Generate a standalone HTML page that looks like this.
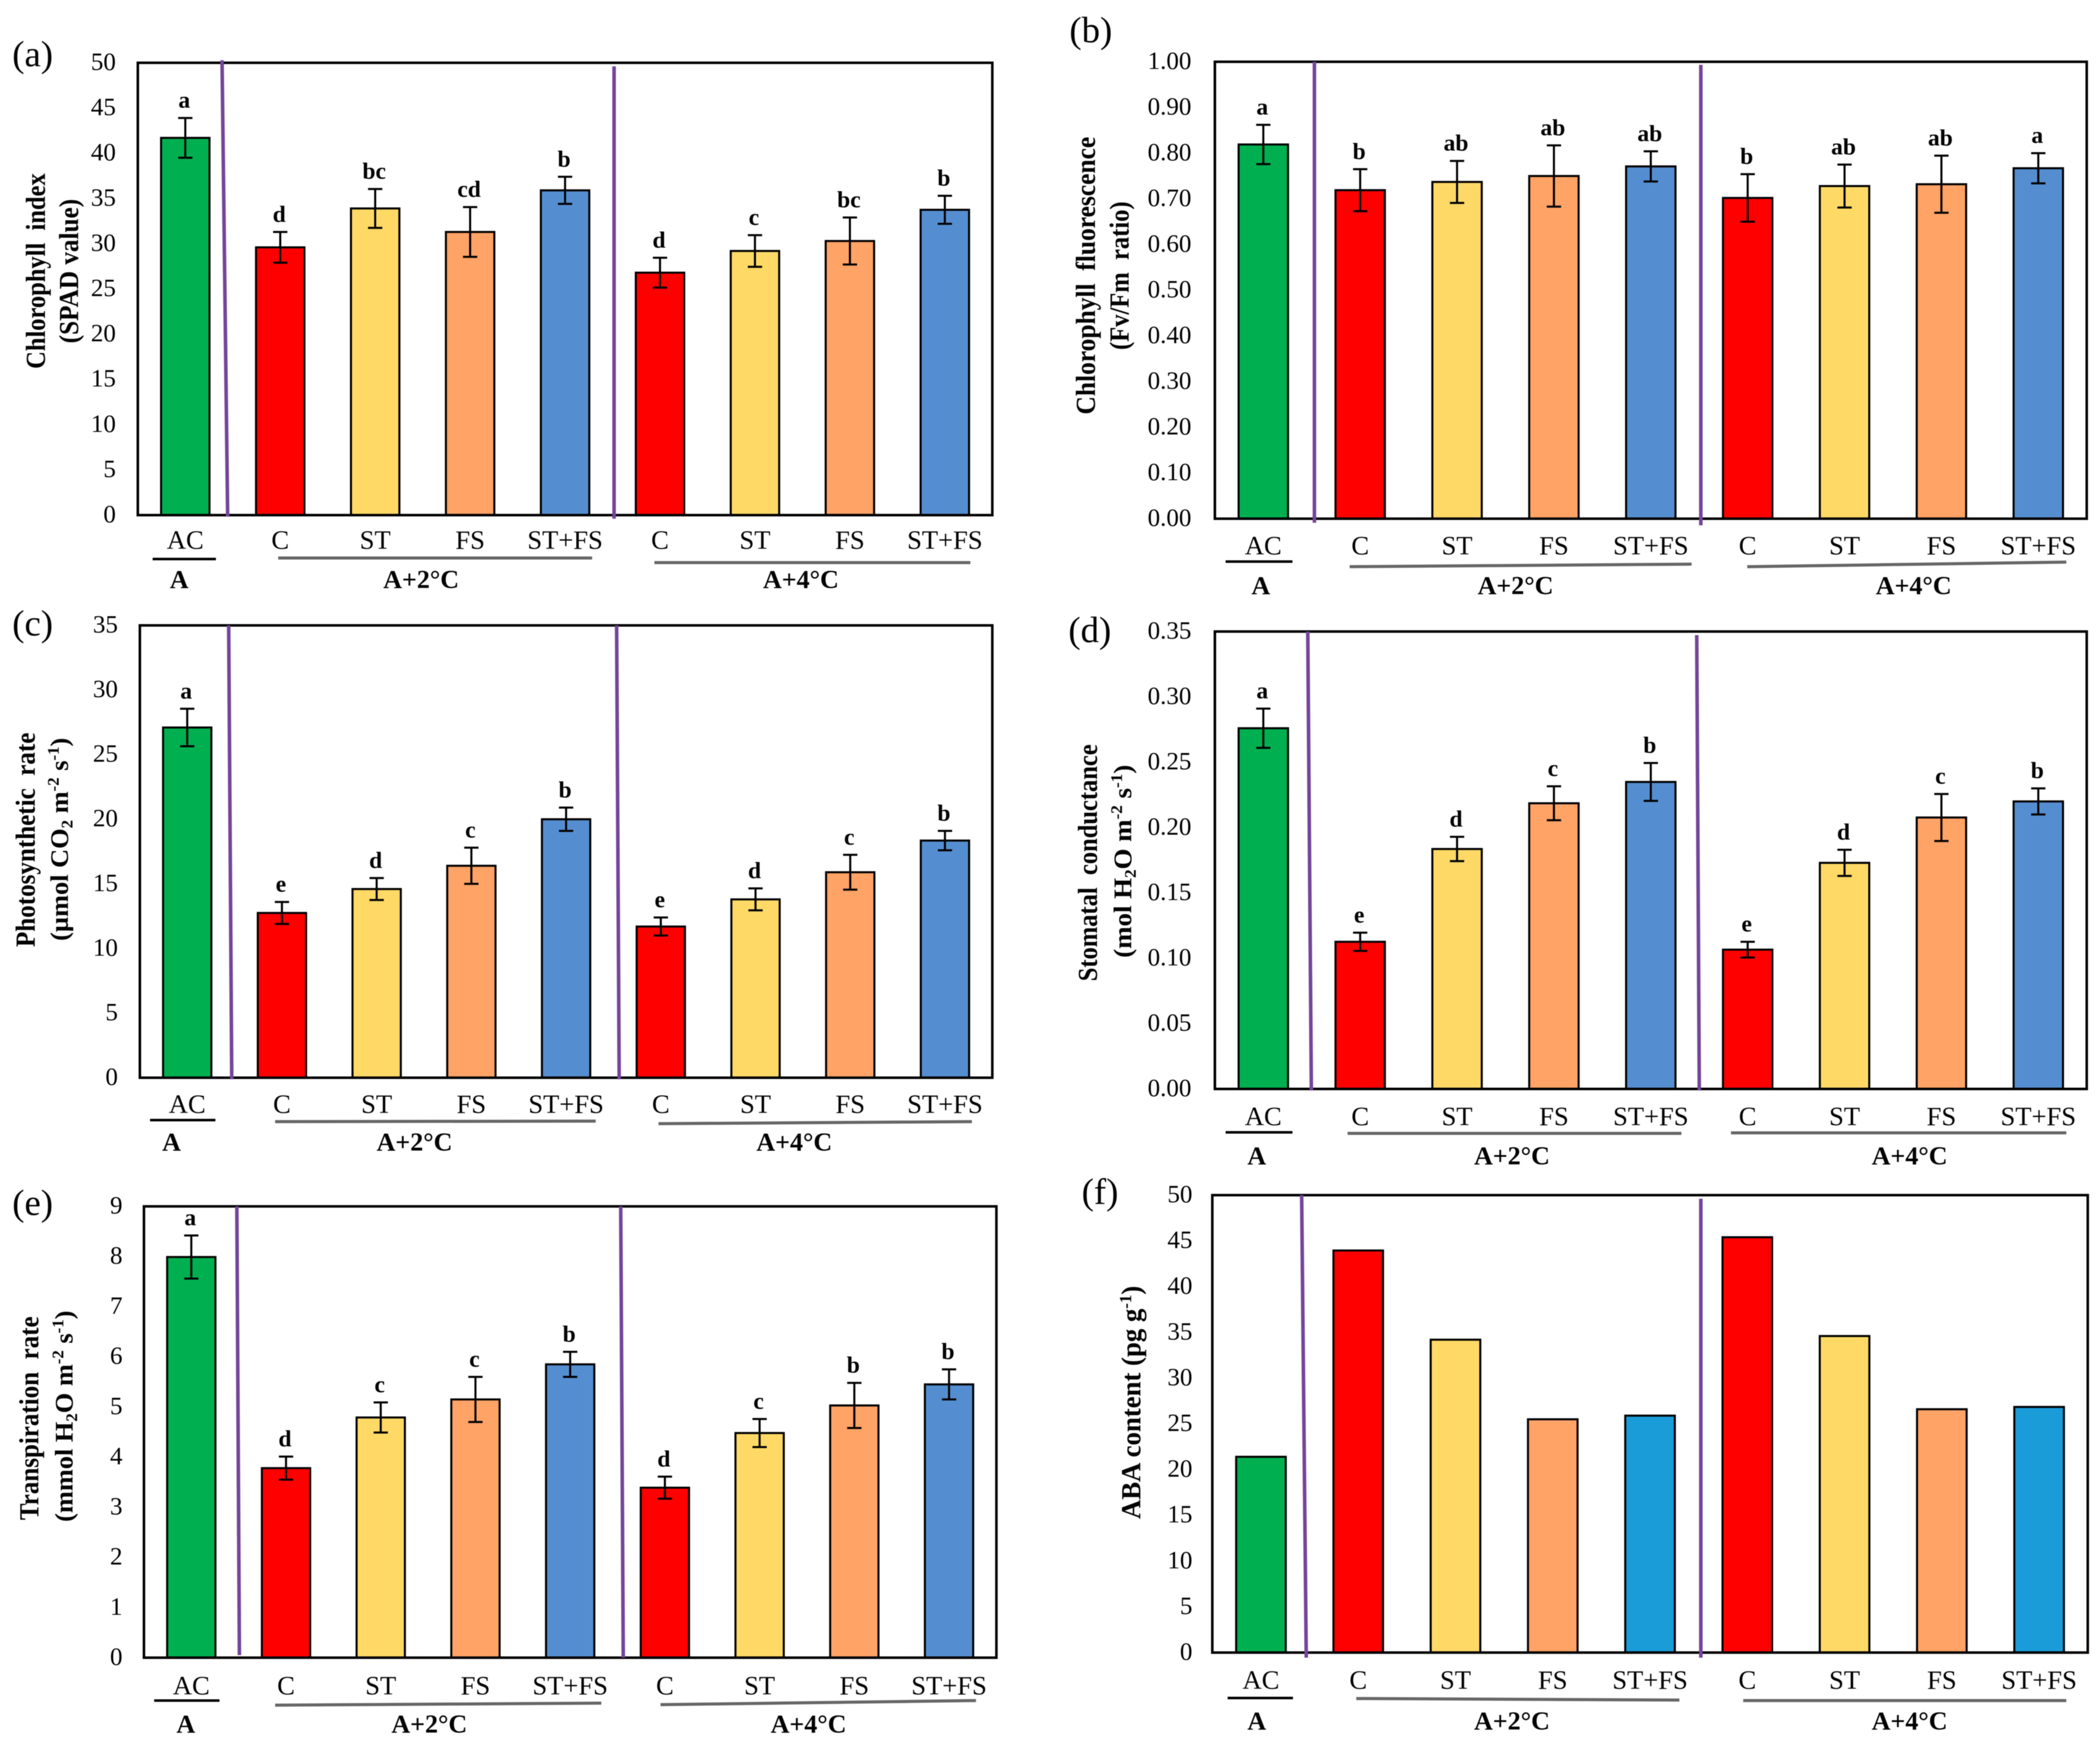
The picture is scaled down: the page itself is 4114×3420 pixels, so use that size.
<!DOCTYPE html>
<html lang="en">
<head>
<meta charset="utf-8">
<title>Physiological responses by treatment</title>
<style>
  html, body { margin: 0; padding: 0; background: #fff; }
  svg { display: block; filter: blur(0.8px); }
  text { font-family: "Liberation Serif", "Times New Roman", serif; fill: #000; }
  .tick { font-size: 49px; }
  .cat { font-size: 52px; }
  .grp { font-size: 51px; font-weight: bold; }
  .sig { font-size: 46px; font-weight: bold; }
  .plabel { font-size: 72px; }
  .title { font-size: 54px; font-weight: bold; }
  .unit { font-size: 50px; font-weight: bold; }
</style>
</head>
<body>
<svg id="figure" xmlns="http://www.w3.org/2000/svg" width="4114" height="3420" viewBox="0 0 4114 3420">
  <rect x="0" y="0" width="4114" height="3420" fill="#fff"/>

  <text class="plabel" x="24" y="130">(a)</text>
  <text class="plabel" x="2095" y="83">(b)</text>
  <text class="plabel" x="24" y="1245">(c)</text>
  <text class="plabel" x="2093" y="1258">(d)</text>
  <text class="plabel" x="24" y="2380">(e)</text>
  <text class="plabel" x="2119" y="2358">(f)</text>

  <text class="title" xml:space="preserve" transform="translate(88,531) rotate(-90)" text-anchor="middle" textLength="383" lengthAdjust="spacingAndGlyphs">Chlorophyll  index</text>
  <text class="title" transform="translate(153,531) rotate(-90)" text-anchor="middle" textLength="283" lengthAdjust="spacingAndGlyphs">(SPAD value)</text>

  <text class="title" xml:space="preserve" transform="translate(2145,540) rotate(-90)" text-anchor="middle" textLength="544" lengthAdjust="spacingAndGlyphs">Chlorophyll  fluorescence</text>
  <text class="title" xml:space="preserve" transform="translate(2211,540) rotate(-90)" text-anchor="middle" textLength="291" lengthAdjust="spacingAndGlyphs">(Fv/Fm  ratio)</text>

  <text class="title" xml:space="preserve" transform="translate(68,1645) rotate(-90)" text-anchor="middle" textLength="420" lengthAdjust="spacingAndGlyphs">Photosynthetic  rate</text>
  <text class="unit" transform="translate(133,1644) rotate(-90)" text-anchor="middle" textLength="398" lengthAdjust="spacingAndGlyphs">(µmol CO<tspan dy="9" font-size="32">2</tspan><tspan dy="-9"> m</tspan><tspan dy="-18" font-size="32">-2</tspan><tspan dy="18"> s</tspan><tspan dy="-18" font-size="32">-1</tspan><tspan dy="18">)</tspan></text>

  <text class="title" xml:space="preserve" transform="translate(2149,1690) rotate(-90)" text-anchor="middle" textLength="464" lengthAdjust="spacingAndGlyphs">Stomatal  conductance</text>
  <text class="unit" transform="translate(2216,1687) rotate(-90)" text-anchor="middle" textLength="378" lengthAdjust="spacingAndGlyphs">(mol H<tspan dy="9" font-size="32">2</tspan><tspan dy="-9">O m</tspan><tspan dy="-18" font-size="32">-2</tspan><tspan dy="18"> s</tspan><tspan dy="-18" font-size="32">-1</tspan><tspan dy="18">)</tspan></text>

  <text class="title" xml:space="preserve" transform="translate(75,2778) rotate(-90)" text-anchor="middle" textLength="399" lengthAdjust="spacingAndGlyphs">Transpiration  rate</text>
  <text class="unit" transform="translate(142,2774) rotate(-90)" text-anchor="middle" textLength="414" lengthAdjust="spacingAndGlyphs">(mmol H<tspan dy="9" font-size="32">2</tspan><tspan dy="-9">O m</tspan><tspan dy="-18" font-size="32">-2</tspan><tspan dy="18"> s</tspan><tspan dy="-18" font-size="32">-1</tspan><tspan dy="18">)</tspan></text>

  <text class="title" transform="translate(2234,2747) rotate(-90)" text-anchor="middle" textLength="457" lengthAdjust="spacingAndGlyphs">ABA content  (pg g<tspan dy="-18" font-size="34">-1</tspan><tspan dy="18">)</tspan></text>
</svg>

<script>
// ---- shared categories ----
const categories = ['AC', 'C', 'ST', 'FS', 'ST+FS', 'C', 'ST', 'FS', 'ST+FS'];
const groupLabels = ['A', 'A+2°C', 'A+4°C'];

// ---- panel (a) Chlorophyll index ----
const valuesA = [41.7, 29.6, 33.9, 31.3, 35.9, 26.8, 29.2, 30.3, 33.75];
const errorsA = [2.2, 1.7, 2.15, 2.75, 1.5, 1.65, 1.75, 2.6, 1.55];
const lettersA = ['a', 'd', 'bc', 'cd', 'b', 'd', 'c', 'bc', 'b'];
const ticksA = ['0', '5', '10', '15', '20', '25', '30', '35', '40', '45', '50'];

// ---- panel (b) Chlorophyll fluorescence ----
const valuesB = [0.819, 0.719, 0.737, 0.750, 0.771, 0.702, 0.728, 0.732, 0.767];
const errorsB = [0.043, 0.046, 0.046, 0.067, 0.033, 0.052, 0.047, 0.0625, 0.033];
const lettersB = ['a', 'b', 'ab', 'ab', 'ab', 'b', 'ab', 'ab', 'a'];
const ticksB = ['0.00', '0.10', '0.20', '0.30', '0.40', '0.50', '0.60', '0.70', '0.80', '0.90', '1.00'];

// ---- panel (c) Photosynthetic rate ----
const valuesC = [27.1, 12.75, 14.6, 16.4, 20, 11.7, 13.8, 15.9, 18.35];
const errorsC = [1.45, 0.85, 0.85, 1.4, 0.9, 0.7, 0.85, 1.35, 0.75];
const lettersC = ['a', 'e', 'd', 'c', 'b', 'e', 'd', 'c', 'b'];
const ticksC = ['0', '5', '10', '15', '20', '25', '30', '35'];

// ---- panel (d) Stomatal conductance ----
const valuesD = [0.276, 0.1126, 0.1836, 0.2186, 0.2349, 0.1066, 0.173, 0.2077, 0.22];
const errorsD = [0.015, 0.007, 0.0093, 0.013, 0.0145, 0.006, 0.01, 0.018, 0.01];
const lettersD = ['a', 'e', 'd', 'c', 'b', 'e', 'd', 'c', 'b'];
const ticksD = ['0.00', '0.05', '0.10', '0.15', '0.20', '0.25', '0.30', '0.35'];

// ---- panel (e) Transpiration rate ----
const valuesE = [7.99, 3.78, 4.79, 5.15, 5.85, 3.39, 4.48, 5.03, 5.45];
const errorsE = [0.43, 0.23, 0.3, 0.45, 0.25, 0.22, 0.28, 0.45, 0.3];
const lettersE = ['a', 'd', 'c', 'c', 'b', 'd', 'c', 'b', 'b'];
const ticksE = ['0', '1', '2', '3', '4', '5', '6', '7', '8', '9'];

// ---- panel (f) ABA content ----
const valuesF = [21.4, 43.95, 34.2, 25.5, 25.9, 45.4, 34.6, 26.6, 26.85];
const ticksF = ['0', '5', '10', '15', '20', '25', '30', '35', '40', '45', '50'];

const barColors = ['#00b050', '#ff0000', '#ffd966', '#ffa366', '#558ed0', '#ff0000', '#ffd966', '#ffa366', '#558ed0'];
const barColorsF = ['#00b050', '#ff0000', '#ffd966', '#ffa366', '#1a9cd8', '#ff0000', '#ffd966', '#ffa366', '#1a9cd8'];

const panels = [
  { id: 'a', values: valuesA, errors: errorsA, letters: lettersA, ticks: ticksA, colors: barColors,
    frame: { l: 270, r: 1944, t: 123, b: 1009 }, max: 50, tickRight: 227,
    catBase: 1075, grpBase: 1152, grpX: [351, 825, 1569],
    under: [[299, 1095, 423, 1095], [545, 1093, 1160, 1093], [1282, 1102, 1901, 1102]],
    purple: [[435, 118, 446, 1012], [1203, 130, 1203, 1016]] },
  { id: 'b', values: valuesB, errors: errorsB, letters: lettersB, ticks: ticksB, colors: barColors,
    frame: { l: 2380, r: 4088, t: 121, b: 1016 }, max: 1, tickRight: 2334,
    catBase: 1086, grpBase: 1164, grpX: [2470, 2969, 3749],
    under: [[2401, 1100, 2532, 1100], [2644, 1110, 3314, 1105], [3423, 1110, 4048, 1101]],
    purple: [[2575, 121, 2575, 1024], [3332, 127, 3332, 1029]] },
  { id: 'c', values: valuesC, errors: errorsC, letters: lettersC, ticks: ticksC, colors: barColors,
    frame: { l: 274, r: 1944, t: 1225, b: 2111 }, max: 35, tickRight: 231,
    catBase: 2180, grpBase: 2254, grpX: [336, 812, 1556],
    under: [[294, 2194, 422, 2194], [539, 2197, 1167, 2196], [1290, 2201, 1904, 2197]],
    purple: [[448, 1225, 454, 2114], [1208, 1225, 1213, 2114]] },
  { id: 'd', values: valuesD, errors: errorsD, letters: lettersD, ticks: ticksD, colors: barColors,
    frame: { l: 2380, r: 4088, t: 1237, b: 2133 }, max: 0.35, tickRight: 2334,
    catBase: 2204, grpBase: 2281, grpX: [2462, 2962, 3741],
    under: [[2401, 2218, 2532, 2218], [2640, 2220, 3294, 2220], [3391, 2219, 4048, 2219]],
    purple: [[2562, 1237, 2569, 2136], [3324, 1244, 3329, 2136]] },
  { id: 'e', values: valuesE, errors: errorsE, letters: lettersE, ticks: ticksE, colors: barColors,
    frame: { l: 282, r: 1952, t: 2363, b: 3247 }, max: 9, tickRight: 240,
    catBase: 3319, grpBase: 3394, grpX: [364, 841, 1584],
    under: [[302, 3331, 430, 3331], [539, 3340, 1178, 3336], [1294, 3339, 1912, 3331]],
    purple: [[464, 2363, 469, 3242], [1216, 2363, 1221, 3247]] },
  { id: 'f', values: valuesF, errors: null, letters: null, ticks: ticksF, colors: barColorsF,
    frame: { l: 2375, r: 4090, t: 2341, b: 3237 }, max: 50, tickRight: 2336,
    catBase: 3308, grpBase: 3388, grpX: [2462, 2962, 3741],
    under: [[2405, 3326, 2533, 3326], [2657, 3327, 3290, 3330], [3415, 3331, 4048, 3331]],
    purple: [[2550, 2341, 2559, 3247], [3332, 2348, 3332, 3247]] }
];

const SVGNS = 'http://www.w3.org/2000/svg';
const root = document.getElementById('figure');

function make(tag, attrs, parent) {
  const el = document.createElementNS(SVGNS, tag);
  for (const k in attrs) el.setAttribute(k, attrs[k]);
  parent.appendChild(el);
  return el;
}

function drawPanel(p) {
  const f = p.frame;
  const g = make('g', {}, root);
  
  

  const yScale = v => f.b - (v / p.max) * (f.b - f.t);
  const band = (f.r - f.l) / categories.length;
  const xScale = i => f.l + (i + 0.5) * band;
  const barW = band * 0.51;

  // y tick labels
  p.ticks.forEach(t => {
    const el = make('text', { x: p.tickRight, y: yScale(parseFloat(t)) + 14, 'text-anchor': 'end', class: 'tick' }, g);
    el.textContent = t;
    
    
  });

  // bars
  p.values.forEach((v, i) => {
    const bar = make('rect', {
      x: xScale(i) - barW / 2, y: yScale(v), width: barW, height: f.b - yScale(v),
      fill: p.colors[i], stroke: '#000', 'stroke-width': 4
    }, g);
    
    
  });

  // frame
  const frame = make('rect', { x: f.l, y: f.t, width: f.r - f.l, height: f.b - f.t, fill: 'none', stroke: '#000', 'stroke-width': 5 }, g);
  
  

  // error bars
  if (p.errors) {
    p.values.forEach((v, i) => {
      const cx = xScale(i), hi = yScale(v + p.errors[i]), lo = yScale(v - p.errors[i]);
      const eb = make('path', {
        d: 'M' + cx + ' ' + hi + 'V' + lo + 'M' + (cx - 14) + ' ' + hi + 'H' + (cx + 14) + 'M' + (cx - 14) + ' ' + lo + 'H' + (cx + 14),
        fill: 'none', stroke: '#000', 'stroke-width': 4
      }, g);
      
      
    });
    p.letters.forEach((s, i) => {
      const el = make('text', { x: xScale(i) - 2, y: yScale(p.values[i] + p.errors[i]) - 20, 'text-anchor': 'middle', class: 'sig' }, g);
      el.textContent = s;
      
      
    });
  }

  // treatment separators
  p.purple.forEach(c => {
    const sep = make('line', { x1: c[0], y1: c[1], x2: c[2], y2: c[3], stroke: '#74459a', 'stroke-width': 7 }, g);
    
    
  });

  // category labels
  categories.forEach((c, i) => {
    const el = make('text', { x: xScale(i), y: p.catBase, 'text-anchor': 'middle', class: 'cat' }, g);
    el.textContent = c;
    
    
  });

  // group underlines
  p.under.forEach((c, i) => {
    const u = make('line', { x1: c[0], y1: c[1], x2: c[2], y2: c[3], stroke: i === 0 ? '#000' : '#666', 'stroke-width': i === 0 ? 5 : 6 }, g);
    
    
  });

  // group labels
  groupLabels.forEach((c, i) => {
    const el = make('text', { x: p.grpX[i], y: p.grpBase, 'text-anchor': 'middle', class: 'grp' }, g);
    el.textContent = c;
    
    
  });
}

panels.forEach(drawPanel);
</script>
</body>
</html>
